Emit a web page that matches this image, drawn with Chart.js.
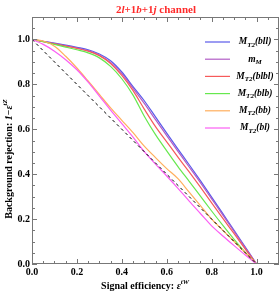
<!DOCTYPE html>
<html>
<head>
<meta charset="utf-8">
<script src="https://cdn.jsdelivr.net/npm/chart.js@4"></script>
<style>
  html, body { margin: 0; padding: 0; background: #fff; }
  canvas { display: block; }
</style>
</head>
<body>
<canvas id="grafico" width="280" height="294"></canvas>
<script>
// Eficiencia de señal (eje x), común a todas las curvas
const efSenal = [0, 0.05, 0.1, 0.15, 0.2, 0.25, 0.3, 0.35, 0.4, 0.45, 0.5,
                 0.55, 0.6, 0.65, 0.7, 0.75, 0.8, 0.85, 0.9, 0.95, 1.0];

// Rechazo de fondo para cada variable
const rechazoBll  = [1, 0.992, 0.984, 0.975, 0.965, 0.954, 0.935, 0.905, 0.855, 0.79, 0.727,
                     0.655, 0.583, 0.512, 0.442, 0.371, 0.298, 0.224, 0.15, 0.075, 0];
const rechazoMM   = [1, 0.991, 0.982, 0.972, 0.962, 0.95, 0.93, 0.898, 0.848, 0.782, 0.715,
                     0.643, 0.572, 0.502, 0.432, 0.362, 0.29, 0.218, 0.145, 0.072, 0];
const rechazoBlbl = [1, 0.99, 0.98, 0.97, 0.96, 0.948, 0.928, 0.893, 0.84, 0.772, 0.69,
                     0.612, 0.544, 0.476, 0.41, 0.342, 0.272, 0.203, 0.135, 0.066, 0];
const rechazoBlb  = [1, 0.99, 0.978, 0.966, 0.954, 0.94, 0.918, 0.88, 0.825, 0.752, 0.658,
                     0.576, 0.504, 0.434, 0.368, 0.302, 0.236, 0.172, 0.11, 0.052, 0];
const rechazoBb   = [1, 0.993, 0.97, 0.925, 0.873, 0.815, 0.755, 0.695, 0.64, 0.585, 0.525,
                     0.474, 0.425, 0.38, 0.32, 0.26, 0.2, 0.15, 0.1, 0.05, 0];
const rechazoBl   = [1, 0.978, 0.948, 0.91, 0.865, 0.81, 0.748, 0.685, 0.625, 0.565, 0.5,
                     0.445, 0.392, 0.337, 0.28, 0.225, 0.17, 0.125, 0.082, 0.04, 0];

// Diagonal de referencia
const diagX = [0, 1];
const diagY = [1, 0];

// Marcas de los ejes
const valoresTicks = [0, 0.2, 0.4, 0.6, 0.8, 1.0];
const etiquetasX = ['0.0', '0.2', '0.4', '0.6', '0.8', '1.0'];
const etiquetasY = ['0.0', '0.2', '0.4', '0.6', '0.8', '1.0'];
const ticksMenores = [0, 0.05, 0.1, 0.15, 0.2, 0.25, 0.3, 0.35, 0.4, 0.45, 0.5,
                      0.55, 0.6, 0.65, 0.7, 0.75, 0.8, 0.85, 0.9, 0.95, 1.0, 1.05];

const SERIF = '"Liberation Serif", "DejaVu Serif", serif';

function puntos(xs, ys) {
    return xs.map((x, i) => ({ x: x, y: ys[i] }));
}

// Leyenda: texto con subíndices
const leyenda = [
    { color: '#5a5aea', partes: [{ t: 'M', it: 1 }, { t: 'T2', it: 1, sub: 1 }, { t: '(bll)', it: 1 }] },
    { color: '#b25cc6', partes: [{ t: 'm', it: 1 }, { t: 'M', it: 1, sub: 1 }] },
    { color: '#f65a5a', partes: [{ t: 'M', it: 1 }, { t: 'T2', it: 1, sub: 1 }, { t: '(blbl)', it: 1 }] },
    { color: '#66e84e', partes: [{ t: 'M', it: 1 }, { t: 'T2', it: 1, sub: 1 }, { t: '(blb)', it: 1 }] },
    { color: '#ffae5c', partes: [{ t: 'M', it: 1 }, { t: 'T2', it: 1, sub: 1 }, { t: '(bb)', it: 1 }] },
    { color: '#fb5ef4', partes: [{ t: 'M', it: 1 }, { t: 'T2', it: 1, sub: 1 }, { t: '(bl)', it: 1 }] }
];

function fuente(p, tam) {
    const s = (p.sub || p.sup) ? Math.round(tam * 0.72) : tam;
    return (p.it ? 'italic ' : '') + 'bold ' + s + 'px ' + SERIF;
}

// Dibuja texto enriquecido centrado en (cx, cy)
function textoRico(ctx, partes, cx, cy, tam, color) {
    ctx.save();
    ctx.fillStyle = color;
    ctx.textBaseline = 'middle';
    ctx.textAlign = 'left';
    let ancho = 0;
    partes.forEach(p => { ctx.font = fuente(p, tam); ancho += ctx.measureText(p.t).width; });
    let x = cx - ancho / 2;
    partes.forEach(p => {
        ctx.font = fuente(p, tam);
        let dy = 0;
        if (p.sub) dy = tam * 0.3;
        if (p.sup) dy = -tam * 0.38;
        ctx.fillText(p.t, x, cy + dy);
        x += ctx.measureText(p.t).width;
    });
    ctx.restore();
}

const decoracion = {
    id: 'decoracion',
    afterDraw(chart) {
        const ctx = chart.ctx;
        const a = chart.chartArea;
        const sx = chart.scales.x, sy = chart.scales.y;

        // Marco
        ctx.save();
        ctx.strokeStyle = '#777';
        ctx.lineWidth = 1;
        ctx.strokeRect(a.left + 0.5, a.top + 0.5, a.right - a.left - 1, a.bottom - a.top - 1);

        // Marcas hacia dentro en los cuatro lados
        ctx.beginPath();
        ticksMenores.forEach(v => {
            const mayor = valoresTicks.some(t => Math.abs(t - v) < 1e-6);
            const L = mayor ? 5 : 3;
            const px = Math.round(sx.getPixelForValue(v)) + 0.5;
            ctx.moveTo(px, a.bottom); ctx.lineTo(px, a.bottom - L);
            ctx.moveTo(px, a.top); ctx.lineTo(px, a.top + L);
            const py = Math.round(sy.getPixelForValue(v)) + 0.5;
            ctx.moveTo(a.left, py); ctx.lineTo(a.left + L, py);
            ctx.moveTo(a.right, py); ctx.lineTo(a.right - L, py);
        });
        ctx.stroke();
        ctx.restore();

        // Título
        textoRico(ctx, [{ t: '2' }, { t: 'l', it: 1 }, { t: '+1' }, { t: 'b', it: 1 }, { t: '+1' },
                        { t: 'j', it: 1 }, { t: ' channel' }], 156, 10, 11, '#ff2a2a');

        // Títulos de los ejes
        textoRico(ctx, [{ t: 'Signal efficiency: ' }, { t: 'ε', it: 1 }, { t: 'tW', it: 1, sup: 1 }],
                  145, 286, 10, '#000');
        ctx.save();
        ctx.translate(9, 159);
        ctx.rotate(-Math.PI / 2);
        textoRico(ctx, [{ t: 'Background rejection: ' }, { t: '1', it: 1 }, { t: '−' }, { t: 'ε', it: 1 },
                        { t: 'tZ', it: 1, sup: 1 }], 0, 0, 10, '#000');
        ctx.restore();

        // Leyenda
        leyenda.forEach((e, i) => {
            const y = 42 + i * 17.2;
            ctx.save();
            ctx.strokeStyle = e.color;
            ctx.lineWidth = 1.2;
            ctx.beginPath();
            ctx.moveTo(205, y); ctx.lineTo(230, y);
            ctx.stroke();
            ctx.restore();
            textoRico(ctx, e.partes, 255, y, 9.5, '#000');
        });
    }
};

function serie(datos, color) {
    return { data: datos, borderColor: color, borderWidth: 1.2, pointRadius: 0, fill: false,
             cubicInterpolationMode: 'monotone' };
}

const ctx = document.getElementById('grafico').getContext('2d');
const grafico = new Chart(ctx, {
    type: 'line',
    data: {
        datasets: [
            {
                data: puntos(diagX, diagY),
                borderColor: '#000',
                borderWidth: 1,
                borderDash: [3, 3],
                pointRadius: 0,
                fill: false
            },
            serie(puntos(efSenal, rechazoBl), leyenda[5].color),
            serie(puntos(efSenal, rechazoBb), leyenda[4].color),
            serie(puntos(efSenal, rechazoBlb), leyenda[3].color),
            serie(puntos(efSenal, rechazoBlbl), leyenda[2].color),
            serie(puntos(efSenal, rechazoMM), leyenda[1].color),
            serie(puntos(efSenal, rechazoBll), leyenda[0].color)
        ]
    },
    options: {
        responsive: false,
        devicePixelRatio: 1,
        animation: false,
        layout: { padding: { top: 17, right: 1, left: 0, bottom: 0 } },
        plugins: {
            legend: { display: false },
            title: { display: false },
            tooltip: { enabled: false }
        },
        scales: {
            x: {
                type: 'linear',
                min: 0,
                max: 1.1,
                afterFit: s => { s.height = 30; },
                afterBuildTicks: s => { s.ticks = valoresTicks.map(v => ({ value: v })); },
                ticks: {
                    callback: (v, i) => etiquetasX[i],
                    font: { family: SERIF, size: 10, weight: 'bold' },
                    color: '#000',
                    padding: 2,
                    maxRotation: 0,
                    autoSkip: false
                },
                grid: { display: false, drawTicks: false },
                border: { display: false }
            },
            y: {
                type: 'linear',
                min: 0,
                max: 1.1,
                afterFit: s => { s.width = 32; },
                afterBuildTicks: s => { s.ticks = valoresTicks.map(v => ({ value: v })); },
                ticks: {
                    callback: (v, i) => etiquetasY[i],
                    font: { family: SERIF, size: 10, weight: 'bold' },
                    color: '#000',
                    padding: 2,
                    autoSkip: false
                },
                grid: { display: false, drawTicks: false },
                border: { display: false }
            }
        }
    },
    plugins: [decoracion]
});
</script>
</body>
</html>
